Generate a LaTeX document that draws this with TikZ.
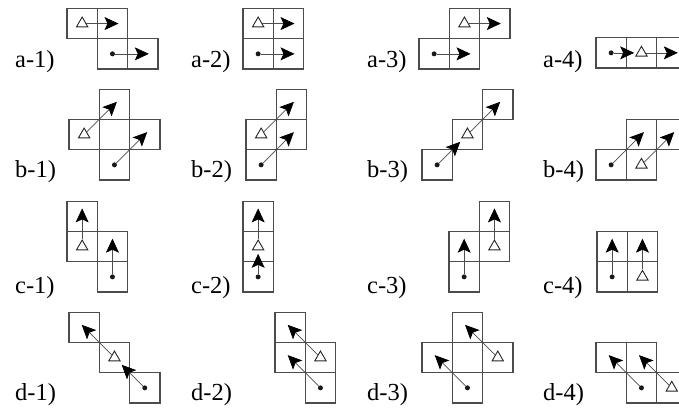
\documentclass[tikz,border=0pt]{standalone}
\usepackage{fontspec}
\setmainfont{Liberation Serif}
\usetikzlibrary{arrows.meta, shapes.geometric}

\begin{document}
\begin{tikzpicture}[x=1pt, y=-1pt,
  cell/.style={draw=black!70, line width=1.2pt},
  tri/.style={draw=black!85, regular polygon, regular polygon sides=3, minimum size=13pt, inner sep=0pt, line width=0.9pt},
  dot/.style={fill=black!90, circle, minimum size=5pt, inner sep=0pt},
  arr/.style={draw=black!70, line width=0.7pt, -{Stealth[length=14pt, width=13pt, inset=3pt, color=black]}},
  lbl/.style={anchor=base west, inner sep=0pt, font=\fontsize{24.5}{26}\selectfont}]
\useasboundingbox (0,0) rectangle (679,408);

% row a
\node[lbl] (la1) at (15,67) {a-1)};
\node[lbl] (la2) at (191,67) {a-2)};
\node[lbl] (la3) at (367,67) {a-3)};
\node[lbl] (la4) at (543,67) {a-4)};
\begin{scope}[shift={(67,69)}, x=30.3pt, y=30.3pt]
\foreach \i/\j in {0/1,1/1,1/0,2/0} \draw[cell] (\i,\j) rectangle ++(1,1);
\node[tri] (a1t) at (0.5,1.5) {};
\node[dot] (a1d) at (1.5,0.5) {};
\coordinate (a1te) at (1.7,1.5);
\coordinate (a1de) at (2.7,0.5);
\draw[arr] (a1t) -- (a1te);
\draw[arr] (a1d) -- (a1de);
\end{scope}
\begin{scope}[shift={(243,69)}, x=30.3pt, y=30.3pt]
\foreach \i/\j in {0/0,1/0,0/1,1/1} \draw[cell] (\i,\j) rectangle ++(1,1);
\node[tri] (a2t) at (0.5,1.5) {};
\node[dot] (a2d) at (0.5,0.5) {};
\coordinate (a2te) at (1.7,1.5);
\coordinate (a2de) at (1.7,0.5);
\draw[arr] (a2t) -- (a2te);
\draw[arr] (a2d) -- (a2de);
\end{scope}
\begin{scope}[shift={(419,69)}, x=30.3pt, y=30.3pt]
\foreach \i/\j in {1/1,2/1,0/0,1/0} \draw[cell] (\i,\j) rectangle ++(1,1);
\node[tri] (a3t) at (1.5,1.5) {};
\node[dot] (a3d) at (0.5,0.5) {};
\coordinate (a3te) at (2.7,1.5);
\coordinate (a3de) at (1.7,0.5);
\draw[arr] (a3t) -- (a3te);
\draw[arr] (a3d) -- (a3de);
\end{scope}
\begin{scope}[shift={(596,68)}, x=30.3pt, y=30.3pt]
\foreach \i/\j in {0/0,1/0,2/0} \draw[cell] (\i,\j) rectangle ++(1,1);
\node[tri] (a4t) at (1.5,0.5) {};
\node[dot] (a4d) at (0.5,0.5) {};
\coordinate (a4te) at (2.7,0.5);
\coordinate (a4de) at (1.26,0.5);
\draw[arr] (a4t) -- (a4te);
\draw[arr] (a4d) -- (a4de);
\end{scope}

% row b
\node[lbl] (lb1) at (15,177) {b-1)};
\node[lbl] (lb2) at (191,177) {b-2)};
\node[lbl] (lb3) at (367,177) {b-3)};
\node[lbl] (lb4) at (543,177) {b-4)};
\begin{scope}[shift={(69,180)}, x=30.3pt, y=30.3pt]
\foreach \i/\j in {1/0,0/1,1/1,2/1,1/2} \draw[cell] (\i,\j) rectangle ++(1,1);
\node[tri] (b1t) at (0.5,1.5) {};
\node[dot] (b1d) at (1.5,0.5) {};
\coordinate (b1te) at (1.58,2.58);
\coordinate (b1de) at (2.58,1.58);
\draw[arr] (b1t) -- (b1te);
\draw[arr] (b1d) -- (b1de);
\end{scope}
\begin{scope}[shift={(246,180)}, x=30.3pt, y=30.3pt]
\foreach \i/\j in {0/0,0/1,1/1,1/2} \draw[cell] (\i,\j) rectangle ++(1,1);
\node[tri] (b2t) at (0.5,1.5) {};
\node[dot] (b2d) at (0.5,0.5) {};
\coordinate (b2te) at (1.58,2.58);
\coordinate (b2de) at (1.58,1.58);
\draw[arr] (b2t) -- (b2te);
\draw[arr] (b2d) -- (b2de);
\end{scope}
\begin{scope}[shift={(422,180)}, x=30.3pt, y=30.3pt]
\foreach \i/\j in {0/0,1/1,2/2} \draw[cell] (\i,\j) rectangle ++(1,1);
\node[tri] (b3t) at (1.5,1.5) {};
\node[dot] (b3d) at (0.5,0.5) {};
\coordinate (b3te) at (2.58,2.58);
\coordinate (b3de) at (1.26,1.26);
\draw[arr] (b3t) -- (b3te);
\draw[arr] (b3d) -- (b3de);
\end{scope}
\begin{scope}[shift={(596,180)}, x=30.3pt, y=30.3pt]
\foreach \i/\j in {0/0,1/0,1/1,2/1} \draw[cell] (\i,\j) rectangle ++(1,1);
\node[tri] (b4t) at (1.5,0.5) {};
\node[dot] (b4d) at (0.5,0.5) {};
\coordinate (b4te) at (2.58,1.58);
\coordinate (b4de) at (1.58,1.58);
\draw[arr] (b4t) -- (b4te);
\draw[arr] (b4d) -- (b4de);
\end{scope}

% row c
\node[lbl] (lc1) at (15,293) {c-1)};
\node[lbl] (lc2) at (191,293) {c-2)};
\node[lbl] (lc3) at (367,293) {c-3)};
\node[lbl] (lc4) at (543,293) {c-4)};
\begin{scope}[shift={(67,292)}, x=30.3pt, y=30.3pt]
\foreach \i/\j in {0/1,0/2,1/0,1/1} \draw[cell] (\i,\j) rectangle ++(1,1);
\node[tri] (c1t) at (0.5,1.5) {};
\node[dot] (c1d) at (1.5,0.5) {};
\coordinate (c1te) at (0.5,2.76);
\coordinate (c1de) at (1.5,1.76);
\draw[arr] (c1t) -- (c1te);
\draw[arr] (c1d) -- (c1de);
\end{scope}
\begin{scope}[shift={(243,292)}, x=30.3pt, y=30.3pt]
\foreach \i/\j in {0/0,0/1,0/2} \draw[cell] (\i,\j) rectangle ++(1,1);
\node[tri] (c2t) at (0.5,1.5) {};
\node[dot] (c2d) at (0.5,0.5) {};
\coordinate (c2te) at (0.5,2.76);
\coordinate (c2de) at (0.5,1.26);
\draw[arr] (c2t) -- (c2te);
\draw[arr] (c2d) -- (c2de);
\end{scope}
\begin{scope}[shift={(449,292)}, x=30.3pt, y=30.3pt]
\foreach \i/\j in {0/0,0/1,1/1,1/2} \draw[cell] (\i,\j) rectangle ++(1,1);
\node[tri] (c3t) at (1.5,1.5) {};
\node[dot] (c3d) at (0.5,0.5) {};
\coordinate (c3te) at (1.5,2.76);
\coordinate (c3de) at (0.5,1.76);
\draw[arr] (c3t) -- (c3te);
\draw[arr] (c3d) -- (c3de);
\end{scope}
\begin{scope}[shift={(597,292)}, x=30.3pt, y=30.3pt]
\foreach \i/\j in {0/0,1/0,0/1,1/1} \draw[cell] (\i,\j) rectangle ++(1,1);
\node[tri] (c4t) at (1.5,0.5) {};
\node[dot] (c4d) at (0.5,0.5) {};
\coordinate (c4te) at (1.5,1.76);
\coordinate (c4de) at (0.5,1.76);
\draw[arr] (c4t) -- (c4te);
\draw[arr] (c4d) -- (c4de);
\end{scope}

% row d
\node[lbl] (ld1) at (15,400) {d-1)};
\node[lbl] (ld2) at (191,400) {d-2)};
\node[lbl] (ld3) at (367,400) {d-3)};
\node[lbl] (ld4) at (543,400) {d-4)};
\begin{scope}[shift={(69,403)}, x=30.3pt, y=30.3pt]
\foreach \i/\j in {0/2,1/1,2/0} \draw[cell] (\i,\j) rectangle ++(1,1);
\node[tri] (d1t) at (1.5,1.5) {};
\node[dot] (d1d) at (2.5,0.5) {};
\coordinate (d1te) at (0.42,2.58);
\coordinate (d1de) at (1.74,1.26);
\draw[arr] (d1t) -- (d1te);
\draw[arr] (d1d) -- (d1de);
\end{scope}
\begin{scope}[shift={(275,403)}, x=30.3pt, y=30.3pt]
\foreach \i/\j in {0/2,0/1,1/1,1/0} \draw[cell] (\i,\j) rectangle ++(1,1);
\node[tri] (d2t) at (1.5,1.5) {};
\node[dot] (d2d) at (1.5,0.5) {};
\coordinate (d2te) at (0.42,2.58);
\coordinate (d2de) at (0.42,1.58);
\draw[arr] (d2t) -- (d2te);
\draw[arr] (d2d) -- (d2de);
\end{scope}
\begin{scope}[shift={(422,403)}, x=30.3pt, y=30.3pt]
\foreach \i/\j in {1/0,0/1,1/1,2/1,1/2} \draw[cell] (\i,\j) rectangle ++(1,1);
\node[tri] (d3t) at (2.5,1.5) {};
\node[dot] (d3d) at (1.5,0.5) {};
\coordinate (d3te) at (1.42,2.58);
\coordinate (d3de) at (0.42,1.58);
\draw[arr] (d3t) -- (d3te);
\draw[arr] (d3d) -- (d3de);
\end{scope}
\begin{scope}[shift={(596,403)}, x=30.3pt, y=30.3pt]
\foreach \i/\j in {0/1,1/1,1/0,2/0} \draw[cell] (\i,\j) rectangle ++(1,1);
\node[tri] (d4t) at (2.5,0.5) {};
\node[dot] (d4d) at (1.5,0.5) {};
\coordinate (d4te) at (1.42,1.58);
\coordinate (d4de) at (0.42,1.58);
\draw[arr] (d4t) -- (d4te);
\draw[arr] (d4d) -- (d4de);
\end{scope}
\end{tikzpicture}
\end{document}
